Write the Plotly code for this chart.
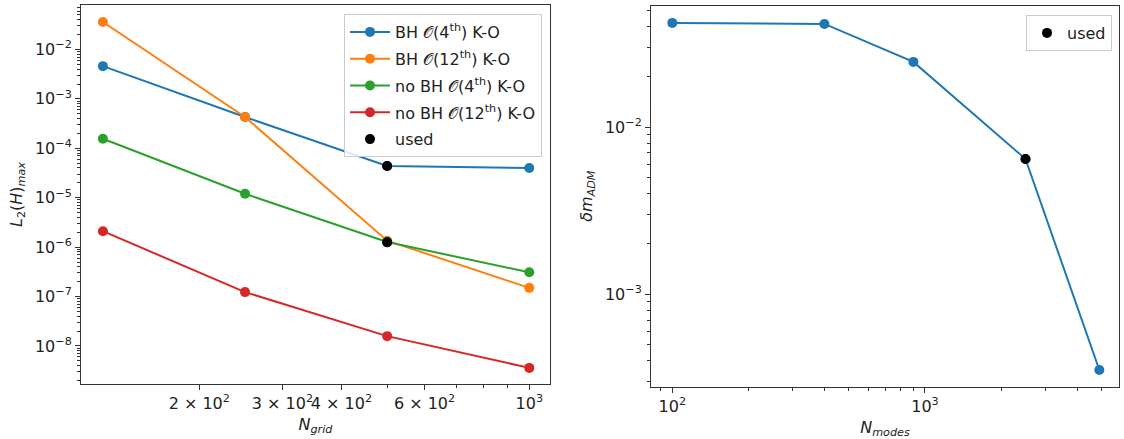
import numpy as np
import plotly.graph_objects as go

# ---- data (left panel) ----
n_grid = [125, 250, 500, 1000]
bh_4th = [4.6e-3, 4.3e-4, 4.4e-5, 4.0e-5]
bh_12th = [3.6e-2, 4.3e-4, 1.35e-6, 1.5e-7]
nobh_4th = [1.56e-4, 1.2e-5, 1.27e-6, 3.1e-7]
nobh_12th = [2.1e-6, 1.23e-7, 1.58e-8, 3.6e-9]
used_left_x = [500, 500]
used_left_y = [4.4e-5, 1.25e-6]

# ---- data (right panel) ----
n_modes = [100, 400, 900, 2500, 4900]
dm_adm = [0.0419, 0.0413, 0.0245, 0.00644, 3.53e-4]
used_right_x = [2500]
used_right_y = [0.00644]

left_labels = ["BH 𝒪(4<sup>th</sup>) K-O", "BH 𝒪(12<sup>th</sup>) K-O",
               "no BH 𝒪(4<sup>th</sup>) K-O", "no BH 𝒪(12<sup>th</sup>) K-O"]
colors = ["#1f77b4", "#ff7f0e", "#2ca02c", "#d62728"]

FONT = "DejaVu Sans"
FS = 16
fig = go.Figure()

for i, (ys, name, c) in enumerate(zip([bh_4th, bh_12th, nobh_4th, nobh_12th], left_labels, colors)):
    fig.add_trace(go.Scatter(x=n_grid, y=ys, name=name, mode="lines+markers",
                             line=dict(color=c, width=2), marker=dict(color=c, size=10),
                             xaxis="x", yaxis="y", legend="legend", legendgroup="g%d" % i))
fig.add_trace(go.Scatter(x=used_left_x, y=used_left_y, name="used", mode="markers",
                         marker=dict(color="black", size=10), xaxis="x", yaxis="y",
                         legend="legend", legendgroup="g4"))

fig.add_trace(go.Scatter(x=n_modes, y=dm_adm, mode="lines+markers", showlegend=False,
                         line=dict(color=colors[0], width=2), marker=dict(color=colors[0], size=10),
                         xaxis="x2", yaxis="y2"))
fig.add_trace(go.Scatter(x=used_right_x, y=used_right_y, name="used", mode="markers",
                         marker=dict(color="black", size=10), xaxis="x2", yaxis="y2",
                         legend="legend2"))


def minor_vals(lo_exp, hi_exp, skip=()):
    out = []
    for e in range(lo_exp, hi_exp + 1):
        for m in range(2, 10):
            v = m * 10.0 ** e
            if v not in skip:
                out.append(v)
    return out


def sup(e):
    return "10<sup>" + (("−" + str(-e)) if e < 0 else str(e)) + "</sup>"


axis_common = dict(type="log", showline=True, mirror=True, linecolor="#333333", linewidth=1,
                   ticks="outside", ticklen=5, tickwidth=1, tickcolor="#333333",
                   showgrid=False, zeroline=False, automargin=False, tickangle=0,
                   tickfont=dict(family=FONT, size=FS, color="#222222"),
                   title_font=dict(family=FONT, size=FS, color="#222222"))

# left x
lx_labeled = [200, 300, 400, 600, 1000]
lx_text = ["2 × 10<sup>2</sup>", "3 × 10<sup>2</sup>", "4 × 10<sup>2</sup>",
           "6 × 10<sup>2</sup>", "10<sup>3</sup>"]
fig.update_layout(
    xaxis=dict(axis_common, domain=[81 / 1124, 550 / 1124], range=[2.0505, 3.0439],
               tickmode="array", tickvals=lx_labeled, ticktext=lx_text,
               minor=dict(ticks="outside", ticklen=3, tickcolor="#333333", tickmode="array",
                          tickvals=[500, 700, 800, 900]),
               title=dict(text="<i>N<sub>grid</sub></i>", standoff=6), anchor="y"),
    yaxis=dict(axis_common, domain=[1 - 384 / 439, 1 - 5 / 439], range=[-8.77, -1.10],
               tickmode="array", tickvals=[10.0 ** e for e in range(-8, -1)],
               ticktext=[sup(e) for e in range(-8, -1)],
               minor=dict(ticks="outside", ticklen=3, tickcolor="#333333", tickmode="array",
                          tickvals=minor_vals(-9, -2)),
               title=dict(text="<i>L</i><sub>2</sub>(<i>H</i>)<sub><i>max</i></sub>", standoff=8),
               anchor="x"),
    xaxis2=dict(axis_common, domain=[651 / 1124, 1119 / 1124], range=[1.9157, 3.768],
                tickmode="array", tickvals=[100, 1000], ticktext=[sup(2), sup(3)],
                minor=dict(ticks="outside", ticklen=3, tickcolor="#333333", tickmode="array",
                           tickvals=minor_vals(1, 3)),
                title=dict(text="<i>N<sub>modes</sub></i>", standoff=6), anchor="y2"),
    yaxis2=dict(axis_common, domain=[1 - 386.7 / 439, 1 - 5.7 / 439], range=[-3.552, -1.275],
                tickmode="array", tickvals=[1e-3, 1e-2], ticktext=[sup(-3), sup(-2)],
                minor=dict(ticks="outside", ticklen=3, tickcolor="#333333", tickmode="array",
                           tickvals=minor_vals(-4, -2)),
                title=dict(text="<i>δm<sub>ADM</sub></i>", standoff=8), anchor="x2"),
    legend=dict(x=542 / 1124, y=1 - 14 / 439, xanchor="right", yanchor="top",
                bgcolor="rgba(255,255,255,0.85)", bordercolor="#cccccc", borderwidth=1,
                tracegroupgap=3, itemwidth=40,
                font=dict(family=FONT, size=FS, color="#222222")),
    legend2=dict(x=1112 / 1124, y=1 - 15 / 439, xanchor="right", yanchor="top",
                 bgcolor="rgba(255,255,255,0.85)", bordercolor="#cccccc", borderwidth=1,
                 font=dict(family=FONT, size=FS, color="#222222")),
    width=1124, height=439, margin=dict(l=0, r=0, t=0, b=0),
    paper_bgcolor="white", plot_bgcolor="white",
    font=dict(family=FONT, size=FS, color="#222222"),
)

fig.write_html("out.html")
